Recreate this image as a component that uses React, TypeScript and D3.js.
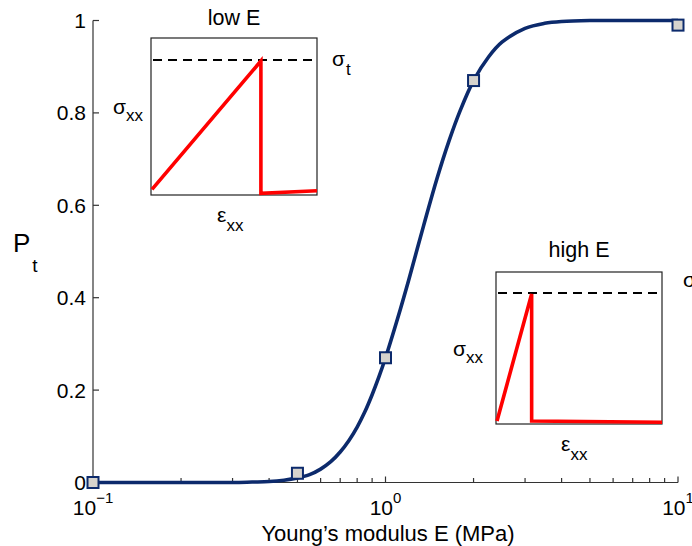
import React from "react";
import * as d3 from "d3";

// Fitted curve
const curveE = [0.1, 0.2, 0.3, 0.35, 0.4, 0.45, 0.5, 0.55, 0.6, 0.65, 0.7, 0.75, 0.8, 0.85, 0.9, 0.95, 1.0, 1.1, 1.2, 1.35, 1.5, 1.65, 1.8, 2.0, 2.25, 2.5, 3.0, 3.5, 4.0, 5.0, 6.0, 8.0, 10.0];
const curveP = [0, 0, 0, 0.001, 0.002, 0.005, 0.01, 0.017, 0.029, 0.045, 0.066, 0.091, 0.12, 0.153, 0.19, 0.229, 0.27, 0.355, 0.438, 0.556, 0.658, 0.74, 0.805, 0.87, 0.921, 0.953, 0.983, 0.994, 0.998, 1.0, 1.0, 1.0, 1.0];
// Measured points
const pointE = [0.1, 0.5, 1.0, 2.0, 10.0];
const pointP = [0, 0.02, 0.27, 0.87, 0.99];
// Ticks
const yTicks = [0, 0.2, 0.4, 0.6, 0.8, 1];
const yTickLabels = ["0", "0.2", "0.4", "0.6", "0.8", "1"];
const xMajor = [0.1, 1, 10];
const xMajorExp = ["\u22121", "0", "1"];
const xMinor = [0.2, 0.3, 0.4, 0.5, 0.6, 0.7, 0.8, 0.9, 2, 3, 4, 5, 6, 7, 8, 9];
// Inset schematic stress-strain curves (normalized)
const lowStrain = [0, 0.66, 0.66, 1];
const lowStress = [0.02, 1, -0.01, 0.01];
const highStrain = [0, 0.21, 0.21, 1];
const highStress = [0, 1, 0, -0.01];

const FONT = "'Liberation Sans', Arial, Helvetica, sans-serif";

function Inset({ x0, y0, w, h, dashY, strain, stress, title, titleY, sigT }: any) {
  const sx = d3.scaleLinear().domain([0, 1]).range([x0 + 1, x0 + w]);
  const sy = d3.scaleLinear().domain([0, 1]).range([y0 + h - 3, y0 + dashY + 1]);
  const line = d3.line<number>().x((_, i) => sx(strain[i])).y((d) => sy(d));
  return (
    <g>
      <text x={x0 + w / 2} y={titleY} textAnchor="middle" fontSize={21.5} fontFamily={FONT}>{title}</text>
      <rect x={x0} y={y0} width={w} height={h} fill="none" stroke="#222" strokeWidth={1.2} />
      <line x1={x0 + 2} x2={x0 + w} y1={y0 + dashY} y2={y0 + dashY} stroke="#000" strokeWidth={2.2} strokeDasharray="9,6" />
      <path d={line(stress) || ""} fill="none" stroke="#ff0000" strokeWidth={3.6} strokeLinejoin="miter" />
      {sigT}
    </g>
  );
}

export default function App() {
  const W = 692, H = 546;
  const x = d3.scaleLog().domain([0.1, 10]).range([93, 678]);
  const y = d3.scaleLinear().domain([0, 1]).range([482.5, 20.5]);
  const line = d3.line<number>().x((_, i) => x(curveE[i])).y((d) => y(d)).curve(d3.curveCatmullRom.alpha(0.5));
  const axisColor = "#333";
  const tick = 6;

  return (
    <svg width={W} height={H} style={{ position: "absolute", left: 0, top: 0, background: "#fff" }} fontFamily={FONT}>
      {/* axes */}
      <line x1={x(0.1)} x2={x(0.1)} y1={y(0)} y2={y(1)} stroke={axisColor} strokeWidth={1.2} />
      <line x1={x(0.1)} x2={x(10)} y1={y(0)} y2={y(0)} stroke={axisColor} strokeWidth={1.2} />
      {yTicks.map((t, i) => (
        <g key={"y" + i}>
          <line x1={x(0.1)} x2={x(0.1) + tick} y1={y(t)} y2={y(t)} stroke={axisColor} strokeWidth={1.2} />
          <text x={86} y={y(t)} dy="0.36em" textAnchor="end" fontSize={21}>{yTickLabels[i]}</text>
        </g>
      ))}
      {xMinor.map((t, i) => (
        <line key={"m" + i} x1={x(t)} x2={x(t)} y1={y(0)} y2={y(0) - 4.5} stroke={axisColor} strokeWidth={1.2} />
      ))}
      {xMajor.map((t, i) => (
        <g key={"x" + i}>
          <line x1={x(t)} x2={x(t)} y1={y(0)} y2={y(0) - tick} stroke={axisColor} strokeWidth={1.2} />
          <text x={x(t)} y={515} textAnchor="middle" fontSize={21}>
            10<tspan dy={-12} fontSize={15}>{xMajorExp[i]}</tspan>
          </text>
        </g>
      ))}
      <text x={388} y={541} textAnchor="middle" fontSize={22}>Young{"\u2019"}s modulus E (MPa)</text>
      <text x={13} y={252} fontSize={26}>P<tspan dx={2} dy={20} fontSize={19}>t</tspan></text>

      {/* curve */}
      <path d={line(curveP) || ""} fill="none" stroke="#0c2a6c" strokeWidth={3.6} />
      {pointE.map((e, i) => (
        <rect key={"p" + i} x={x(e) - 5.5} y={y(pointP[i]) - 5.5} width={11} height={11} fill="#d6d3cd" stroke="#0c2a6c" strokeWidth={2} />
      ))}

      {/* insets */}
      <Inset x0={151} y0={38} w={166} h={157} dashY={22} strain={lowStrain} stress={lowStress} title="low E" titleY={25}
        sigT={<text x={332} y={66} fontSize={21}>{"\u03c3"}<tspan dx={1} dy={9} fontSize={17}>t</tspan></text>} />
      <text x={113} y={114} fontSize={21}>{"\u03c3"}<tspan dx={0} dy={7} fontSize={17}>xx</tspan></text>
      <text x={217} y={222} fontSize={21}>{"\u03b5"}<tspan dx={0} dy={9} fontSize={17}>xx</tspan></text>

      <Inset x0={496} y0={272} w={166} h={152} dashY={21} strain={highStrain} stress={highStress} title="high E" titleY={257}
        sigT={<text x={683} y={287} fontSize={21}>{"\u03c3"}<tspan dx={1} dy={9} fontSize={17}>t</tspan></text>} />
      <text x={453} y={356} fontSize={21}>{"\u03c3"}<tspan dx={0} dy={7} fontSize={17}>xx</tspan></text>
      <text x={561} y={451} fontSize={21}>{"\u03b5"}<tspan dx={0} dy={9} fontSize={17}>xx</tspan></text>
    </svg>
  );
}
